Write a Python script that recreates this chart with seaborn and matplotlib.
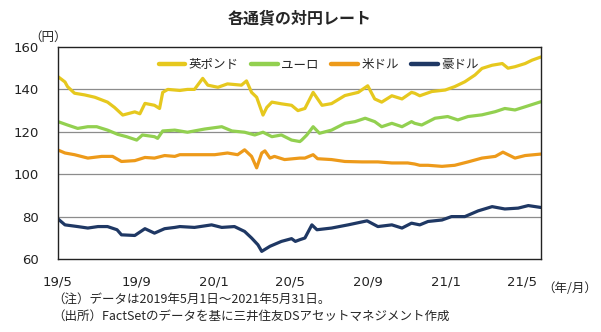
import matplotlib
matplotlib.use("Agg")
import matplotlib.pyplot as plt
import seaborn as sns
import pandas as pd

# ---- data ----
gbp_dates = ["2019-05-01","2019-05-12","2019-05-16","2019-05-27","2019-06-12","2019-06-28","2019-07-18",
             "2019-07-29","2019-08-11","2019-08-30","2019-09-07","2019-09-15","2019-09-30","2019-10-08",
             "2019-10-13","2019-10-21","2019-11-09","2019-11-21","2019-12-02","2019-12-15","2019-12-23",
             "2020-01-08","2020-01-23","2020-02-14","2020-02-22","2020-03-01","2020-03-09","2020-03-19",
             "2020-03-25","2020-04-02","2020-04-17","2020-05-03","2020-05-13","2020-05-24","2020-06-06",
             "2020-06-20","2020-07-05","2020-07-26","2020-08-16","2020-08-31","2020-09-11","2020-09-22",
             "2020-10-08","2020-10-24","2020-11-08","2020-11-13","2020-11-21","2020-12-10","2020-12-31",
             "2021-01-15","2021-01-31","2021-02-16","2021-02-27","2021-03-15","2021-03-31","2021-04-09",
             "2021-04-20","2021-05-06","2021-05-17","2021-05-31"]
gbp_vals = [146.0,143.5,141.3,138.2,137.4,136.3,134.0,
            131.5,127.9,129.4,128.5,133.4,132.5,131.0,
            138.6,140.0,139.5,140.0,140.0,145.2,142.0,
            141.0,142.6,142.0,144.0,138.6,136.3,127.9,
            131.5,134.0,133.2,132.5,130.0,131.0,138.6,
            132.5,133.3,137.1,138.6,141.7,135.5,134.0,
            137.0,135.5,138.6,138.2,137.0,139.0,139.7,
            141.3,143.6,146.8,149.9,151.4,152.2,150.0,
            150.7,152.2,153.8,155.3]

eur_dates = ["2019-05-01","2019-05-16","2019-06-01","2019-06-17","2019-07-01","2019-07-18","2019-08-03",
             "2019-08-17","2019-09-02","2019-09-11","2019-09-30","2019-10-05","2019-10-13","2019-11-01",
             "2019-11-09","2019-11-21","2019-12-18","2020-01-14","2020-01-30","2020-02-19","2020-03-06",
             "2020-03-19","2020-04-02","2020-04-17","2020-05-03","2020-05-16","2020-05-19","2020-05-27",
             "2020-06-06","2020-06-16","2020-07-05","2020-07-26","2020-08-11","2020-08-27","2020-09-11",
             "2020-09-22","2020-10-08","2020-10-24","2020-11-08","2020-11-13","2020-11-24","2020-12-15",
             "2021-01-04","2021-01-20","2021-02-05","2021-02-27","2021-03-20","2021-04-04","2021-04-20",
             "2021-05-06","2021-05-31"]
eur_vals = [124.8,123.2,121.6,122.4,122.4,120.8,118.8,
            117.7,116.1,118.5,117.7,116.9,120.4,120.8,
            120.4,119.8,121.3,122.4,120.4,119.8,118.5,
            119.8,117.7,118.5,116.1,115.4,116.1,118.5,
            122.4,119.3,120.8,124.0,124.8,126.4,124.8,
            122.4,124.0,122.4,124.8,124.0,123.2,126.4,
            127.2,125.6,127.2,128.0,129.5,131.0,130.3,
            131.8,134.2]

usd_dates = ["2019-05-01","2019-05-12","2019-05-27","2019-06-17","2019-07-09","2019-07-26","2019-08-09",
             "2019-08-30","2019-09-15","2019-09-30","2019-10-16","2019-11-01","2019-11-09","2019-12-02",
             "2020-01-03","2020-01-23","2020-02-08","2020-02-19","2020-03-01","2020-03-09","2020-03-17",
             "2020-03-22","2020-03-30","2020-04-06","2020-04-22","2020-05-16","2020-05-24","2020-06-06",
             "2020-06-13","2020-07-05","2020-07-26","2020-08-22","2020-09-16","2020-10-08","2020-11-02",
             "2020-11-13","2020-11-21","2020-12-04","2020-12-26","2021-01-15","2021-02-05","2021-02-27",
             "2021-03-20","2021-04-01","2021-04-20","2021-05-06","2021-05-31"]
usd_vals = [111.4,110.0,109.2,107.6,108.4,108.4,106.0,
            106.4,107.9,107.6,108.8,108.4,109.2,109.2,
            109.2,110.0,109.2,111.5,108.4,103.0,110.0,
            111.0,107.6,108.4,106.9,107.6,107.6,109.2,
            107.3,106.9,106.0,105.8,105.8,105.3,105.3,
            104.8,104.2,104.2,103.7,104.2,105.8,107.6,
            108.4,110.4,107.6,108.8,109.5]

aud_dates = ["2019-05-01","2019-05-12","2019-06-01","2019-06-17","2019-07-03","2019-07-18","2019-08-02",
             "2019-08-09","2019-08-30","2019-09-15","2019-09-30","2019-10-16","2019-11-01","2019-11-09",
             "2019-12-02","2019-12-29","2020-01-14","2020-02-03","2020-02-19","2020-03-01","2020-03-11",
             "2020-03-17","2020-03-30","2020-04-17","2020-05-03","2020-05-09","2020-05-16","2020-05-24",
             "2020-06-04","2020-06-12","2020-07-05","2020-07-31","2020-08-30","2020-09-16","2020-10-08",
             "2020-10-24","2020-11-08","2020-11-21","2020-12-04","2020-12-26","2021-01-10","2021-01-31",
             "2021-02-21","2021-03-15","2021-04-04","2021-04-25","2021-05-11","2021-05-31"]
aud_vals = [78.9,76.1,75.3,74.6,75.3,75.3,73.8,
            71.4,71.1,74.3,72.2,74.3,74.9,75.3,
            74.9,76.1,74.9,75.3,73.0,69.9,66.7,
            63.6,66.0,68.3,69.6,68.3,69.1,69.9,
            76.1,73.8,74.6,76.1,78.0,75.3,76.1,
            74.6,76.9,76.1,77.7,78.4,80.0,80.0,
            82.7,84.7,83.6,84.0,85.2,84.3]

series_names = ["英ポンド", "ユーロ", "米ドル", "豪ドル"]
series_colors = ["#E6C81E", "#92D050", "#ED9A1A", "#1F3864"]
x_tick_dates = ["2019-05-01","2019-09-01","2020-01-01","2020-05-01","2020-09-01","2021-01-01","2021-05-01"]
x_tick_labels = ["19/5","19/9","20/1","20/5","20/9","21/1","21/5"]
y_ticks = [60, 80, 100, 120, 140, 160]

frames = []
for name, d, v in zip(series_names, [gbp_dates, eur_dates, usd_dates, aud_dates],
                      [gbp_vals, eur_vals, usd_vals, aud_vals]):
    frames.append(pd.DataFrame({"date": pd.to_datetime(d), "value": v, "series": name}))
df = pd.concat(frames, ignore_index=True)

sns.set_theme(style="white")
plt.rcParams["font.family"] = ["DejaVu Sans", "Noto Sans CJK JP"]
jp = ["Noto Sans CJK JP", "DejaVu Sans"]

fig = plt.figure(figsize=(6.01, 3.32), dpi=100)
ax = fig.add_axes([58/601, 73/332, 483/601, 212/332])

sns.lineplot(data=df, x="date", y="value", hue="series", hue_order=series_names,
             palette=series_colors, linewidth=2.3, ax=ax, sort=True, estimator=None)

ax.set_xlim(pd.Timestamp("2019-05-01"), pd.Timestamp("2021-05-31"))
ax.set_ylim(60, 160)
ax.set_yticks(y_ticks)
ax.set_yticklabels([str(t) for t in y_ticks], fontsize=9.5, color="#222222")
ax.set_xticks(pd.to_datetime(x_tick_dates))
ax.set_xticklabels(x_tick_labels, fontsize=9.5, color="#222222")
ax.set_xlabel("")
ax.set_ylabel("")
for y in [80, 100, 120, 140]:
    ax.axhline(y, color="#8C8C8C", linewidth=0.9, zorder=0)
for s in ax.spines.values():
    s.set_visible(True)
    s.set_color("#222222")
    s.set_linewidth(1.0)
ax.tick_params(axis="x", direction="in", length=4, width=0.9, color="#222222", pad=12)
ax.tick_params(axis="y", length=0, pad=14)

leg = ax.legend(loc="upper center", bbox_to_anchor=(0.54, 1.0), ncol=4, frameon=False,
                handlelength=2.1, handletextpad=0.3, columnspacing=1.0,
                prop={"family": jp, "size": 9})
for line in leg.get_lines():
    line.set_linewidth(3.2)

fig.text(300/601, 1 - 18/332, "各通貨の対円レート", ha="center", va="center",
         fontsize=11.5, fontweight="bold", family=jp)
fig.text(48/601, 1 - 37/332, "（円）", ha="center", va="center", fontsize=9, family=jp)
fig.text(570/601, 1 - 288/332, "（年/月）", ha="center", va="center", fontsize=9, family=jp)
fig.text(52/601, 1 - 299/332, "（注）データは2019年5月1日～2021年5月31日。", ha="left", va="center",
         fontsize=9, family=jp)
fig.text(52/601, 1 - 316/332, "（出所）FactSetのデータを基に三井住友DSアセットマネジメント作成",
         ha="left", va="center", fontsize=9, family=jp)

fig.savefig("out.png", dpi=100)
